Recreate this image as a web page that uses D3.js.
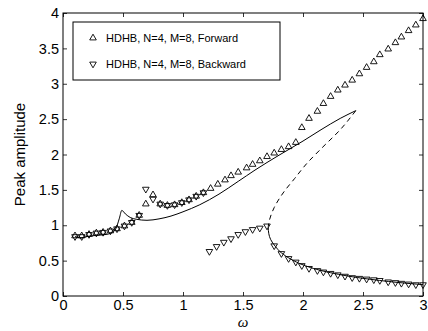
<!DOCTYPE html>
<html>
<head>
<meta charset="utf-8">
<script src="https://cdn.jsdelivr.net/npm/d3@7"></script>
<style>
  body { margin: 0; background: #fff; }
  svg { display: block; font-family: "Liberation Sans", Arial, sans-serif; }
</style>
</head>
<body>
<svg id="chart" width="428" height="331"></svg>
<script>
// forward sweep (upward triangles)
const omegaFwd = [0.10, 0.156, 0.217, 0.278, 0.334, 0.395, 0.45, 0.512, 0.573, 0.635,
  0.69, 0.75, 0.81, 0.87, 0.93, 0.99, 1.05, 1.11, 1.17, 1.23, 1.29, 1.35, 1.40, 1.46,
  1.53, 1.58, 1.64, 1.70, 1.76, 1.82, 1.88, 1.94, 1.99, 2.05, 2.12, 2.17, 2.23, 2.29,
  2.35, 2.41, 2.47, 2.53, 2.59, 2.64, 2.71, 2.77, 2.82, 2.88, 2.94, 3.00];
const ampFwd = [0.85, 0.85, 0.87, 0.89, 0.90, 0.92, 0.95, 0.99, 1.04, 1.14,
  1.30, 1.43, 1.30, 1.28, 1.29, 1.32, 1.36, 1.41, 1.46, 1.52, 1.58, 1.64, 1.70, 1.75,
  1.81, 1.86, 1.91, 1.97, 2.02, 2.07, 2.11, 2.17, 2.38, 2.51, 2.61, 2.72, 2.82, 2.91,
  2.98, 3.05, 3.14, 3.23, 3.31, 3.41, 3.49, 3.58, 3.66, 3.75, 3.83, 3.92];

// backward sweep (downward triangles)
const omegaBwd = [0.10, 0.156, 0.217, 0.278, 0.334, 0.395, 0.45, 0.512, 0.573, 0.635,
  0.69, 0.75, 0.81, 0.87, 0.93, 0.99, 1.05, 1.11, 1.17,
  1.22, 1.28, 1.34, 1.40, 1.46, 1.52, 1.58, 1.64, 1.70, 1.76, 1.82, 1.88, 1.94, 1.99,
  2.05, 2.12, 2.17, 2.23, 2.29, 2.35, 2.41, 2.47, 2.53, 2.59, 2.64, 2.71, 2.77, 2.82,
  2.88, 2.94, 3.00];
const ampBwd = [0.84, 0.84, 0.87, 0.89, 0.90, 0.92, 0.95, 0.99, 1.04, 1.14,
  1.51, 1.37, 1.30, 1.28, 1.29, 1.32, 1.36, 1.41, 1.46,
  0.63, 0.70, 0.76, 0.81, 0.87, 0.91, 0.94, 0.96, 0.99, 0.71, 0.60, 0.53, 0.48, 0.43,
  0.39, 0.36, 0.34, 0.32, 0.30, 0.28, 0.26, 0.25, 0.24, 0.23, 0.22, 0.20, 0.19, 0.18,
  0.17, 0.16, 0.16];

// reference curve: stable upper branch, unstable branch, stable lower branch
const omegaUpper = [0.10, 0.15, 0.20, 0.30, 0.36, 0.40, 0.44, 0.47, 0.49, 0.52, 0.56,
  0.61, 0.70, 0.80, 0.90, 1.00, 1.14, 1.30, 1.46, 1.60, 1.80, 2.00, 2.15, 2.31, 2.44];
const ampUpper = [0.84, 0.82, 0.84, 0.86, 0.87, 0.89, 0.95, 1.10, 1.21, 1.16, 1.11,
  1.085, 1.07, 1.09, 1.13, 1.19, 1.29, 1.44, 1.62, 1.78, 1.99, 2.19, 2.35, 2.51, 2.62];
const omegaUnstable = [2.44, 2.31, 2.15, 2.03, 1.93, 1.84, 1.76, 1.72, 1.71];
const ampUnstable = [2.62, 2.35, 2.08, 1.87, 1.66, 1.47, 1.25, 1.07, 0.98];
const omegaLower = [1.71, 1.715, 1.73, 1.77, 1.82, 1.90, 2.00, 2.20, 2.50, 2.80, 3.00];
const ampLower = [0.97, 0.88, 0.80, 0.70, 0.61, 0.52, 0.44, 0.34, 0.25, 0.19, 0.16];

const xTicks = [0, 0.5, 1, 1.5, 2, 2.5, 3];
const yTicks = [0, 0.5, 1, 1.5, 2, 2.5, 3, 3.5, 4];
const legendLabels = ["HDHB, N=4, M=8, Forward", "HDHB, N=4, M=8, Backward"];

const margin = { top: 13, right: 5, bottom: 35, left: 63 };
const width = 428, height = 331;
const innerW = width - margin.left - margin.right;
const innerH = height - margin.top - margin.bottom;

const svg = d3.select("#chart");
const g = svg.append("g").attr("transform", `translate(${margin.left},${margin.top})`);

const x = d3.scaleLinear().domain([0, 3]).range([0, innerW]);
const y = d3.scaleLinear().domain([0, 4]).range([innerH, 0]);

const fmt = d => String(d);

// axes, ticks pointing inward
g.append("g").attr("transform", `translate(0,${innerH})`)
  .call(d3.axisBottom(x).tickValues(xTicks).tickFormat(fmt).tickSize(-4).tickPadding(4));
g.append("g")
  .call(d3.axisTop(x).tickValues(xTicks).tickFormat("").tickSize(-4));
g.append("g")
  .call(d3.axisLeft(y).tickValues(yTicks).tickFormat(fmt).tickSize(-4).tickPadding(4));
g.append("g").attr("transform", `translate(${innerW},0)`)
  .call(d3.axisRight(y).tickValues(yTicks).tickFormat("").tickSize(-4));

g.selectAll(".domain").remove();
g.selectAll(".tick line").attr("stroke", "#000").attr("stroke-width", 0.8);
g.selectAll(".tick text").attr("font-size", 14.5).attr("fill", "#000");

g.append("rect")
  .attr("width", innerW).attr("height", innerH)
  .attr("fill", "none").attr("stroke", "#000").attr("stroke-width", 1);

// curves
const line = d3.line().x(d => x(d[0])).y(d => y(d[1])).curve(d3.curveMonotoneX);
const lineY = d3.line().x(d => x(d[0])).y(d => y(d[1])).curve(d3.curveMonotoneY);

g.append("path")
  .datum(d3.zip(omegaUpper, ampUpper))
  .attr("d", line).attr("fill", "none").attr("stroke", "#000").attr("stroke-width", 1);
g.append("path")
  .datum(d3.zip(omegaUnstable, ampUnstable))
  .attr("d", lineY).attr("fill", "none").attr("stroke", "#000").attr("stroke-width", 1)
  .attr("stroke-dasharray", "5,4");
g.append("path")
  .datum(d3.zip(omegaLower, ampLower))
  .attr("d", lineY).attr("fill", "none").attr("stroke", "#000").attr("stroke-width", 1);

// markers
const tri = d3.symbol().type(d3.symbolTriangle).size(19);

g.selectAll(".fwd")
  .data(d3.zip(omegaFwd, ampFwd))
  .join("path").attr("class", "fwd")
  .attr("d", tri)
  .attr("transform", d => `translate(${x(d[0])},${y(d[1])})`)
  .attr("fill", "none").attr("stroke", "#000").attr("stroke-width", 0.9);

g.selectAll(".bwd")
  .data(d3.zip(omegaBwd, ampBwd))
  .join("path").attr("class", "bwd")
  .attr("d", tri)
  .attr("transform", d => `translate(${x(d[0])},${y(d[1])}) rotate(180)`)
  .attr("fill", "none").attr("stroke", "#000").attr("stroke-width", 0.9);

// legend
const lg = svg.append("g").attr("transform", "translate(73,22)");
lg.append("rect").attr("width", 207).attr("height", 58)
  .attr("fill", "#fff").attr("stroke", "#000").attr("stroke-width", 1);
legendLabels.forEach((label, i) => {
  const cy = 16 + i * 26;
  lg.append("path").attr("d", tri)
    .attr("transform", `translate(20,${cy})` + (i === 1 ? " rotate(180)" : ""))
    .attr("fill", "none").attr("stroke", "#000").attr("stroke-width", 0.9);
  lg.append("text").attr("x", 33).attr("y", cy + 4)
    .attr("font-size", 11).text(label);
});

// axis titles
svg.append("text")
  .attr("transform", `translate(25,${margin.top + innerH / 2}) rotate(-90)`)
  .attr("text-anchor", "middle").attr("font-size", 15).text("Peak amplitude");
svg.append("text")
  .attr("x", margin.left + x(1.5)).attr("y", 327)
  .attr("text-anchor", "middle").attr("font-size", 15)
  .attr("font-style", "italic").attr("font-family", "'Liberation Serif', serif")
  .text("ω");
</script>
</body>
</html>
